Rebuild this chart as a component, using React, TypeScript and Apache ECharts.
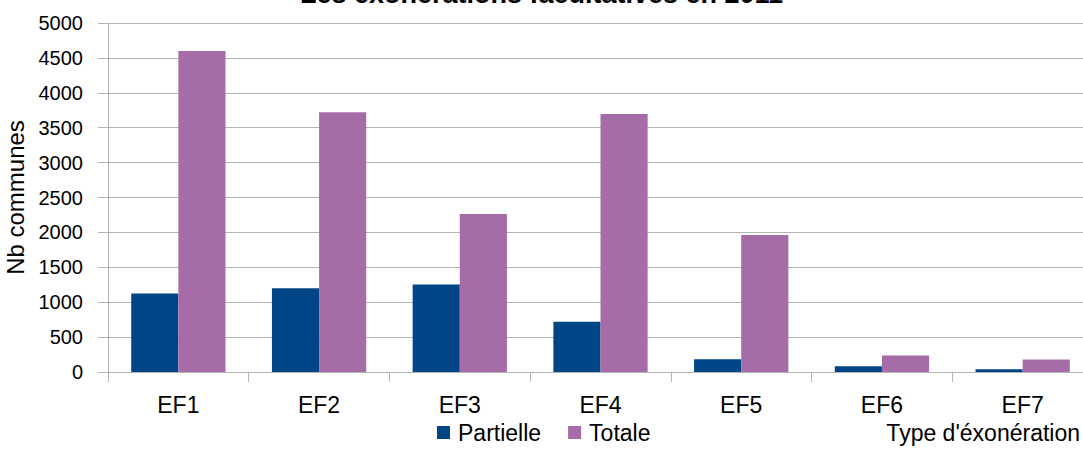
import React, { useEffect, useRef } from "react";
import * as echarts from "echarts";

const categories = ["EF1", "EF2", "EF3", "EF4", "EF5", "EF6", "EF7"];
const partielle = [1125, 1200, 1255, 720, 182, 82, 39];
const totale = [4600, 3720, 2262, 3698, 1962, 238, 178];
const yTicks = [0, 500, 1000, 1500, 2000, 2500, 3000, 3500, 4000, 4500, 5000];

const FONT = "'Liberation Sans', Arial, sans-serif";

export default function App() {
  const ref = useRef<HTMLDivElement>(null);
  useEffect(() => {
    if (!ref.current) return;
    const chart = echarts.init(ref.current, undefined, { renderer: "svg" });
    chart.setOption({
      animation: false,
      backgroundColor: "#ffffff",
      title: {
        text: "Les exonérations facultatives en 2011",
        left: "center",
        top: -25,
        textStyle: { fontFamily: FONT, fontSize: 27, fontWeight: "bold", color: "#000" },
      },
      legend: {
        bottom: 1,
        left: 432,
        itemWidth: 13,
        itemHeight: 13,
        itemGap: 27,
        icon: "rect",
        textStyle: { fontFamily: FONT, fontSize: 23, color: "#000", padding: [0, 0, 0, 3] },
        data: ["Partielle", "Totale"],
      },
      grid: { left: 108, right: -10, top: 23, bottom: 78, containLabel: false, outerBoundsMode: "none" },
      xAxis: {
        type: "category",
        data: categories,
        axisLine: { lineStyle: { color: "#b3b3b3", width: 1 } },
        axisTick: { show: true, length: 10, lineStyle: { color: "#b3b3b3" }, alignWithLabel: false },
        axisLabel: { fontFamily: FONT, fontSize: 23, color: "#000", margin: 21 },
      },
      yAxis: {
        type: "value",
        min: 0,
        max: 5000,
        interval: 500,
        name: "Nb communes",
        nameLocation: "middle",
        nameRotate: 90,
        nameGap: 80,
        nameTextStyle: { fontFamily: FONT, fontSize: 24, color: "#000" },
        axisLine: { show: true, lineStyle: { color: "#b3b3b3" } },
        axisTick: { show: true, length: 10, lineStyle: { color: "#b3b3b3" } },
        axisLabel: {
          fontFamily: FONT,
          fontSize: 20,
          color: "#000",
          margin: 25,
          formatter: (v: number) => (yTicks.includes(v) ? String(v) : ""),
        },
        splitLine: { lineStyle: { color: "#b3b3b3", width: 1 } },
      },
      graphic: [
        {
          type: "text",
          right: 3,
          bottom: 6,
          style: { text: "Type d'éxonération", fontFamily: FONT, fontSize: 23, fill: "#000" },
        },
      ],
      series: [
        {
          name: "Partielle",
          type: "bar",
          data: partielle,
          barGap: "0%",
          barCategoryGap: "33%",
          itemStyle: { color: "#004586" },
        },
        {
          name: "Totale",
          type: "bar",
          data: totale,
          barGap: "0%",
          barCategoryGap: "33%",
          itemStyle: { color: "#a66ca8" },
        },
      ],
    });
    return () => chart.dispose();
  }, []);
  return <div ref={ref} style={{ width: 1083, height: 450, position: "absolute", left: 0, top: 0 }} />;
}
